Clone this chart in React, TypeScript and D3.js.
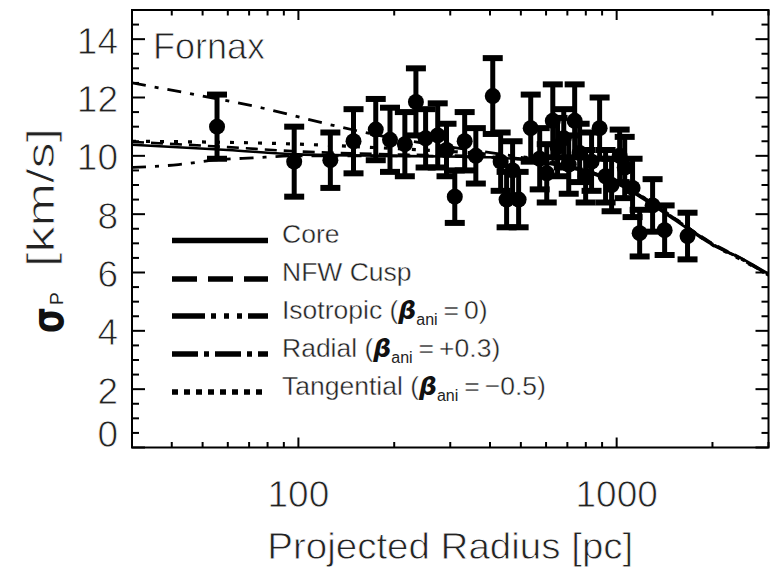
import React from "react";
import * as d3 from "d3";

// ---------- data ----------
const obsRadius = [55.5, 97, 126, 149, 175, 194, 216, 234, 251, 274, 292, 310, 333, 361, 408, 432, 451, 471, 492, 537, 573, 603, 630, 652, 682, 707, 738, 765, 799, 834, 884, 923, 964, 1022, 1060, 1122, 1181, 1297, 1415, 1670];
const obsSigma = [11.0, 9.8, 9.85, 10.5, 10.9, 10.55, 10.4, 11.85, 10.6, 10.7, 10.2, 8.6, 10.5, 10.0, 12.05, 9.8, 8.5, 9.5, 8.5, 10.95, 9.9, 9.4, 11.2, 10.3, 10.6, 9.7, 11.2, 10.1, 9.3, 9.8, 10.95, 9.3, 9.0, 10.0, 9.6, 8.9, 7.35, 8.3, 7.45, 7.25];
const obsError = [1.1, 1.2, 0.95, 1.1, 1.05, 1.1, 1.1, 1.15, 1.0, 1.1, 0.9, 0.9, 1.0, 0.95, 1.3, 1.0, 0.95, 1.0, 0.95, 1.15, 1.05, 1.0, 1.25, 1.0, 1.0, 1.0, 1.25, 1.0, 0.9, 1.0, 1.05, 0.9, 0.9, 0.9, 1.05, 1.0, 0.8, 0.9, 0.85, 0.8];

const coreR = [30, 60, 100, 200, 400, 600, 800, 1000, 1500, 2000, 2500, 3000];
const coreSigma = [10.38, 10.2, 10.05, 10.0, 9.95, 9.75, 9.45, 9.05, 7.85, 6.95, 6.45, 5.95];
const nfwR = [30, 60, 100, 200, 400, 600, 800, 1000, 1500, 2000, 2500, 3000];
const nfwSigma = [10.48, 10.3, 10.15, 10.05, 9.97, 9.8, 9.5, 9.1, 7.9, 7.0, 6.45, 5.92];
const isoR = [30, 42, 54, 72, 100, 200, 400, 600, 800, 1000, 1500, 2000, 2500, 3000];
const isoSigma = [9.6, 9.7, 9.85, 9.93, 10.0, 10.0, 9.95, 9.78, 9.48, 9.08, 7.88, 6.98, 6.42, 5.92];
const radialR = [30, 50, 77, 119, 200, 300, 500, 800, 1000, 1500, 2000, 2500, 3000];
const radialSigma = [12.5, 12.05, 11.64, 11.13, 10.6, 10.3, 9.95, 9.5, 9.1, 7.9, 6.98, 6.42, 5.9];
const tanR = [30, 100, 200, 400, 600, 800, 1000, 1500, 2000, 2500, 3000];
const tanSigma = [10.5, 10.4, 10.25, 10.05, 9.85, 9.5, 9.1, 7.9, 6.95, 6.4, 5.9];

const xMajorTicks = [100, 1000];
const xTickLabels = ["100", "1000"];
const yMajorTicks = [0, 2, 4, 6, 8, 10, 12, 14];
const yTickLabels = ["0", "2", "4", "6", "8", "10", "12", "14"];

// ---------- layout ----------
const W = 770, H = 567;
const L = 132, R = 768.5, T = 10, B = 447.5;
const FONT = "'Liberation Sans', Arial, sans-serif";
const INK = "#000";
const TXT = "#222";
const thin = { stroke: "#fff", strokeWidth: 0.8 };
const thinSmall = { stroke: "#fff", strokeWidth: 0.4 };

const x = d3.scaleLog().domain([30, 3000]).range([L, R]);
const y = d3.scaleLinear().domain([0, 15]).range([B, T]);

const models = [
  { key: "core", r: coreR, s: coreSigma, dash: "none", legDash: "none", w: 2.6 },
  { key: "nfw", r: nfwR, s: nfwSigma, dash: "12,7", legDash: "25,11", w: 2.6 },
  { key: "iso", r: isoR, s: isoSigma, dash: "14,9,4,9", legDash: "33,6,5,8,5,8,5,6", w: 2.8 },
  { key: "rad", r: radialR, s: radialSigma, dash: "14,9,4,9", legDash: "26,6,5,6", w: 2.8 },
  { key: "tan", r: tanR, s: tanSigma, dash: "4,10", legDash: "6,6", w: 3.2 },
];

const line = d3
  .line<[number, number]>()
  .x((d) => x(d[0]))
  .y((d) => y(d[1]))
  .curve(d3.curveMonotoneX);

function Legend() {
  const x0 = 172, x1 = 268, tx = 282;
  const rows = [240.5, 279, 316, 354, 392];
  const fs = 26.5;
  const beta = (tail: string) => (
    <>
      <tspan fontWeight="bold" fontStyle="italic" fontFamily="'DejaVu Sans', sans-serif" fontSize={25} stroke="none" fill="#111">β</tspan>
      <tspan fontSize={16} dy={6} stroke="none">ani</tspan>
      <tspan dy={-6} dx={6}>=</tspan>
      <tspan dx={5}>{tail}</tspan>
    </>
  );
  return (
    <g>
      {models.map((m, i) => (
        <line key={m.key} x1={x0} x2={x1} y1={rows[i]} y2={rows[i]} stroke={INK} strokeWidth={5.5} strokeDasharray={m.legDash === "none" ? undefined : m.legDash} />
      ))}
      <g fontFamily={FONT} fill={TXT} fontSize={fs} {...thinSmall}>
        <text x={tx} y={rows[0] + 2}>Core</text>
        <text x={tx} y={rows[1] + 2}>NFW Cusp</text>
        <text x={tx} y={rows[2] + 3}>Isotropic ({beta("0)")}</text>
        <text x={tx} y={rows[3] + 3}>Radial ({beta("+0.3)")}</text>
        <text x={tx} y={rows[4] + 3}>Tangential ({beta("−0.5)")}</text>
      </g>
    </g>
  );
}

export default function App() {
  const xAll = x.ticks();
  const yMinor = d3.range(0, 15.001, 0.5).filter((v) => v % 2 !== 0);
  const pts = obsRadius.map((r, i) => ({ r, s: obsSigma[i], e: obsError[i] }));

  return (
    <svg width={W} height={H} style={{ position: "fixed", left: 0, top: 0, display: "block", background: "#fff" }}>
      <defs>
        <clipPath id="plotclip">
          <rect x={L} y={T} width={R - L} height={B - T} />
        </clipPath>
      </defs>
      <rect x={0} y={0} width={W} height={H} fill="#fff" />

      {/* model curves */}
      <g clipPath="url(#plotclip)" fill="none">
        {models.map((m) => (
          <path
            key={m.key}
            d={line(m.r.map((r, i) => [r, m.s[i]] as [number, number])) || ""}
            stroke={INK}
            strokeWidth={m.w}
            strokeDasharray={m.dash === "none" ? undefined : m.dash}
          />
        ))}
      </g>

      {/* data with error bars */}
      <g stroke={INK} fill={INK}>
        {pts.map((p, i) => {
          const cx = x(p.r);
          const yt = y(p.s + p.e);
          const yb = y(p.s - p.e);
          return (
            <g key={i}>
              <line x1={cx} x2={cx} y1={yt} y2={yb} strokeWidth={5} />
              <line x1={cx - 10} x2={cx + 10} y1={yt} y2={yt} strokeWidth={6} />
              <line x1={cx - 10} x2={cx + 10} y1={yb} y2={yb} strokeWidth={6} />
              <circle cx={cx} cy={y(p.s)} r={8} stroke="none" />
            </g>
          );
        })}
      </g>

      {/* axes frame and ticks */}
      <g stroke={INK} strokeWidth={2} fill="none">
        <rect x={L} y={T} width={R - L} height={B - T} />
        {xAll.map((v, i) => {
          const major = xMajorTicks.includes(v);
          const len = major ? 10 : 5.5;
          const px = x(v);
          return (
            <g key={"xt" + i}>
              <line x1={px} x2={px} y1={B} y2={B - len} />
              <line x1={px} x2={px} y1={T} y2={T + len} />
            </g>
          );
        })}
        {yMajorTicks.map((v) => (
          <g key={"ym" + v}>
            <line x1={L} x2={L + 13} y1={y(v)} y2={y(v)} />
            <line x1={R} x2={R - 13} y1={y(v)} y2={y(v)} />
          </g>
        ))}
        {yMinor.map((v) => (
          <g key={"yn" + v}>
            <line x1={L} x2={L + 7} y1={y(v)} y2={y(v)} />
            <line x1={R} x2={R - 7} y1={y(v)} y2={y(v)} />
          </g>
        ))}
      </g>

      {/* tick labels */}
      <g fontFamily={FONT} fill={TXT} fontSize={37} {...thin}>
        {yMajorTicks.map((v, i) => (
          <text key={"yl" + v} x={118} y={Math.min(y(v) + 2, B - 13)} textAnchor="end" dominantBaseline="central">
            {yTickLabels[i]}
          </text>
        ))}
        {xMajorTicks.map((v, i) => (
          <text key={"xl" + v} x={x(v)} y={507} textAnchor="middle">
            {xTickLabels[i]}
          </text>
        ))}
      </g>

      {/* axis titles */}
      <text x={(L + R) / 2} y={559} textAnchor="middle" fontFamily={FONT} fontSize={37} fill={TXT} textLength={366} lengthAdjust="spacingAndGlyphs" {...thin}>
        Projected Radius [pc]
      </text>
      <g fontFamily={FONT} fill={TXT}>
        <text transform="translate(63,333) rotate(-90)" fontSize={44} fontWeight="bold" textLength={26} lengthAdjust="spacingAndGlyphs" fontFamily="'DejaVu Sans', sans-serif" fill="#111">
          σ
        </text>
        <text transform="translate(63,305) rotate(-90)" fontSize={19}>
          P
        </text>
        <text transform="translate(54,267) rotate(-90)" fontSize={38} textLength={139} lengthAdjust="spacingAndGlyphs" {...thin}>
          [km/s]
        </text>
      </g>

      <text x={153} y={59} fontFamily={FONT} fontSize={36} fill={TXT} {...thin}>
        Fornax
      </text>

      <Legend />
    </svg>
  );
}
